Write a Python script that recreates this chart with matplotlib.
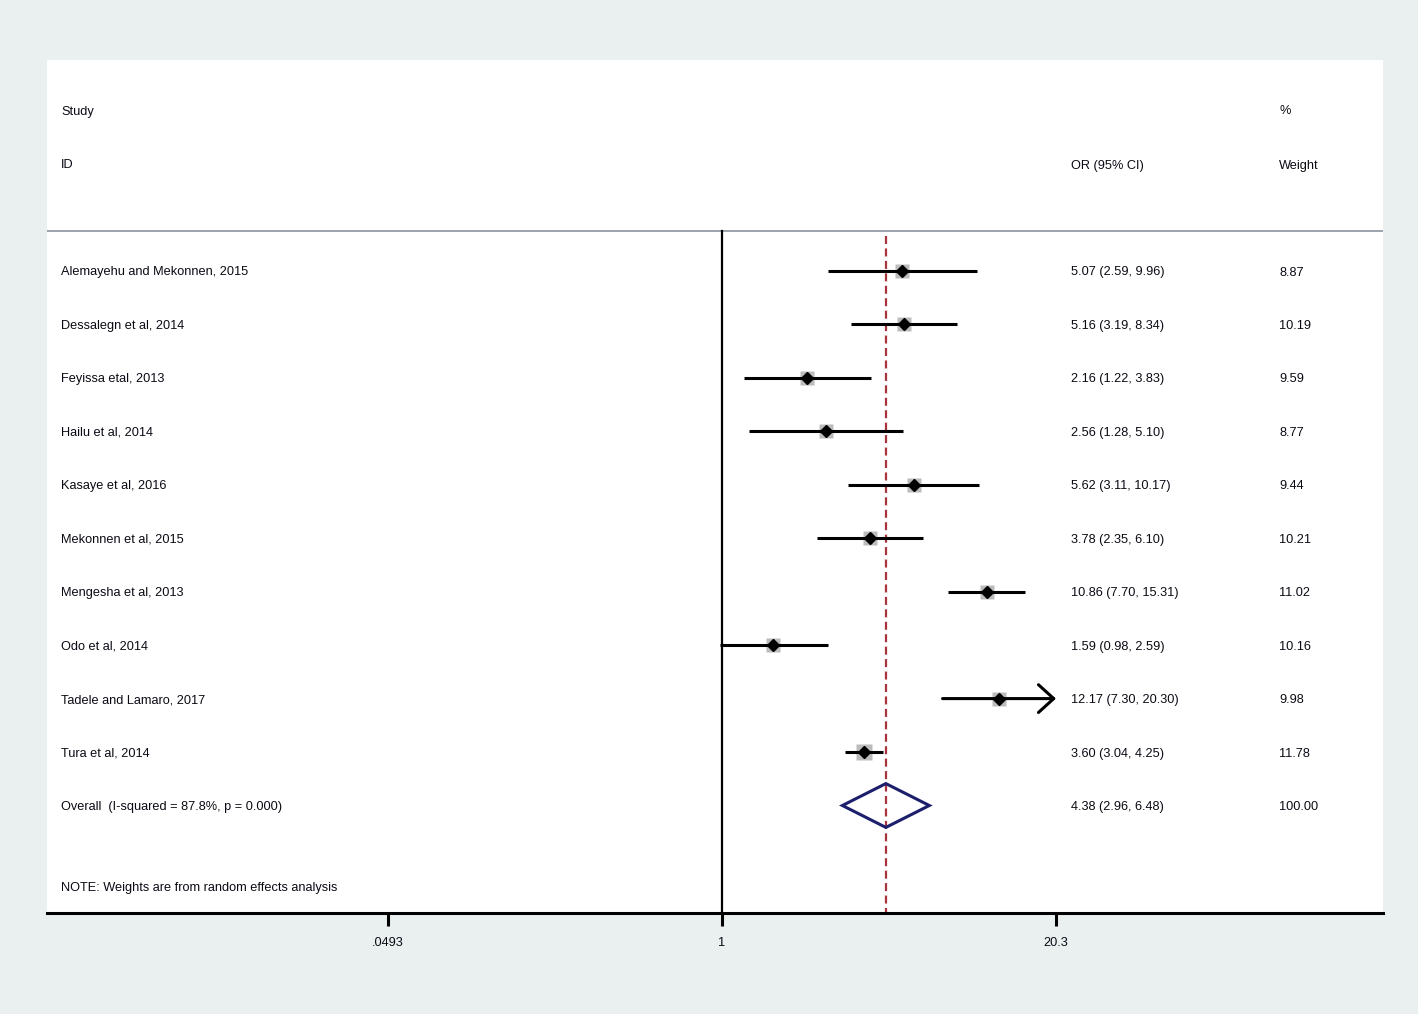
import numpy as np
import matplotlib
matplotlib.use("Agg")
import matplotlib.pyplot as plt
import matplotlib.transforms as mtransforms

studies = ["Alemayehu and Mekonnen, 2015", "Dessalegn et al, 2014", "Feyissa etal, 2013",
           "Hailu et al, 2014", "Kasaye et al, 2016", "Mekonnen et al, 2015",
           "Mengesha et al, 2013", "Odo et al, 2014", "Tadele and Lamaro, 2017", "Tura et al, 2014"]
or_vals = [5.07, 5.16, 2.16, 2.56, 5.62, 3.78, 10.86, 1.59, 12.17, 3.60]
ci_low = [2.59, 3.19, 1.22, 1.28, 3.11, 2.35, 7.70, 0.98, 7.30, 3.04]
ci_high = [9.96, 8.34, 3.83, 5.10, 10.17, 6.10, 15.31, 2.59, 20.30, 4.25]
weights = [8.87, 10.19, 9.59, 8.77, 9.44, 10.21, 11.02, 10.16, 9.98, 11.78]
overall_or, overall_lo, overall_hi, overall_weight = 4.38, 2.96, 6.48, 100.00
i2, pval = 87.8, 0.000
xticks = [0.0493, 1, 20.3]
xticklabels = [".0493", "1", "20.3"]

plt.rcParams['font.family'] = ['Liberation Sans', 'DejaVu Sans']
FS = 9.2
TXT = '#0a0a14'
BG = '#eaf0f0'

fig = plt.figure(figsize=(14.18, 10.14), dpi=100, facecolor=BG)
W, H = 1418, 1014
left, right, top, bottom = 47, 1383, 60, 913
ax = fig.add_axes([left / W, (H - bottom) / H, (right - left) / W, (bottom - top) / H])
ax.set_facecolor('white')

# log x-axis: 1 at pixel 722, 20.3 at pixel 1056
ppl = (1056 - 722) / np.log(20.3)
xmin = np.exp((left - 722) / ppl)
xmax = np.exp((right - 722) / ppl)
ax.set_xscale('log')
ax.set_xlim(xmin, xmax)
row_px = 53.45
ymin = (bottom - 271) / row_px
ymax = (top - 271) / row_px
ax.set_ylim(ymin, ymax)

n = len(studies)
ys = np.arange(n)
y_over = n
sep_y = (231 - 271) / row_px

# header separator
ax.axhline(sep_y, color='#9aa3ab', lw=1.4)
# null line
ax.plot([1, 1], [sep_y, ymin], color='black', lw=1.6, zorder=3)
# overall dashed line
ax.plot([overall_or, overall_or], [sep_y + 0.1, ymin], color='#a8333d', lw=1.6,
        dashes=(3.6, 2.0), zorder=2)

for i in range(n):
    y = ys[i]
    hi = min(ci_high[i], xticks[-1])
    if ci_high[i] >= xticks[-1]:
        ax.annotate('', xy=(hi, y), xytext=(ci_low[i], y),
                    arrowprops=dict(arrowstyle='->,head_length=1.1,head_width=1.0',
                                    lw=2.2, color='black', shrinkA=0, shrinkB=0), zorder=4)
    else:
        ax.plot([ci_low[i], hi], [y, y], color='black', lw=2.2, solid_capstyle='butt', zorder=4)
    ax.plot(or_vals[i], y, marker='s', ms=3.2 * np.sqrt(weights[i]), color='#bcbcbc',
            mec='none', zorder=3)
    ax.plot(or_vals[i], y, marker='D', ms=6.5, color='black', zorder=5)

# overall diamond
h = 0.41
ax.fill([overall_lo, overall_or, overall_hi, overall_or],
        [y_over, y_over - h, y_over, y_over + h],
        facecolor='none', edgecolor='#1c1f6b', lw=2.2, zorder=5)

# text columns
trans = mtransforms.blended_transform_factory(ax.transAxes, ax.transData)
x_lab = (61 - left) / (right - left)
x_or = (1071 - left) / (right - left)
x_w = (1279 - left) / (right - left)
kw = dict(transform=trans, fontsize=FS, color=TXT, va='center_baseline', ha='left')
ax.text(x_lab, (110 - 271) / row_px, "Study", **kw)
ax.text(x_lab, (164 - 271) / row_px, "ID", **kw)
ax.text(x_w, (110 - 271) / row_px, "%", **kw)
ax.text(x_or, (164 - 271) / row_px, "OR (95% CI)", **kw)
ax.text(x_w, (164 - 271) / row_px, "Weight", **kw)
for i in range(n):
    ax.text(x_lab, ys[i], studies[i], **kw)
    ax.text(x_or, ys[i], f"{or_vals[i]:.2f} ({ci_low[i]:.2f}, {ci_high[i]:.2f})", **kw)
    ax.text(x_w, ys[i], f"{weights[i]:.2f}", **kw)
ax.text(x_lab, y_over, f"Overall  (I-squared = {i2:.1f}%, p = {pval:.3f})", **kw)
ax.text(x_or, y_over, f"{overall_or:.2f} ({overall_lo:.2f}, {overall_hi:.2f})", **kw)
ax.text(x_w, y_over, f"{overall_weight:.2f}", **kw)
ax.text(x_lab, (887 - 271) / row_px, "NOTE: Weights are from random effects analysis", **kw)

# axes styling
for s in ['top', 'left', 'right']:
    ax.spines[s].set_visible(False)
ax.spines['bottom'].set_linewidth(2.2)
ax.spines['bottom'].set_color('black')
ax.set_yticks([])
ax.set_xticks(xticks)
ax.set_xticklabels(xticklabels)
ax.xaxis.set_minor_locator(matplotlib.ticker.NullLocator())
ax.tick_params(axis='x', length=9, width=2.2, color='black', labelsize=FS,
               labelcolor=TXT, pad=8)

fig.savefig('out.png', dpi=100, facecolor=BG)
